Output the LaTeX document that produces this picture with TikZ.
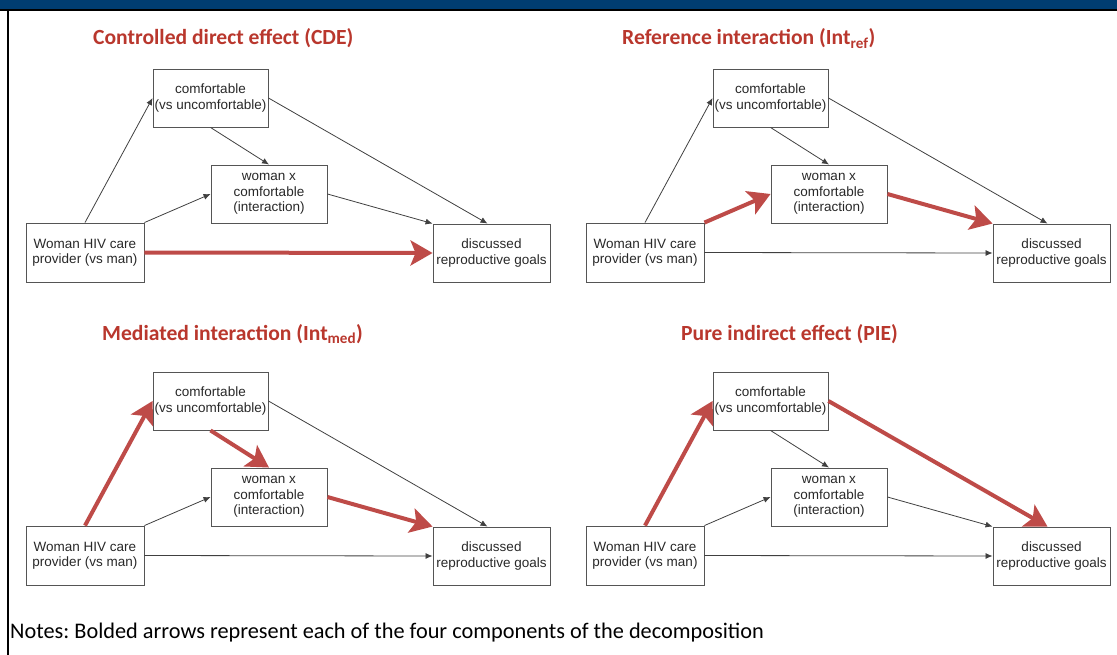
\documentclass[tikz,border=0pt]{standalone}
\usepackage{fontspec}
\setmainfont{Liberation Sans}
\newfontfamily\titlefont{Carlito}
\usetikzlibrary{arrows.meta}
\definecolor{bandblue}{RGB}{0,61,113}
\definecolor{titlered}{RGB}{185,55,45}
\definecolor{arrowred}{RGB}{190,75,72}
\definecolor{boxgray}{RGB}{85,85,85}
\definecolor{txtgray}{RGB}{40,40,40}
\newcommand\drawpanel[8]{%
  \begin{scope}[shift={#2}]
    \node[box, minimum width=115pt] (#1c) at (210.5,98) {comfortable\\(vs uncomfortable)};
    \node[box] (#1x) at (269,194) {woman x\\comfortable\\(interaction)};
    \node[box, minimum width=118pt, minimum height=59pt] (#1w) at (85,252.5) {Woman HIV care\\provider (vs man)};
    \node[box, minimum width=117pt] (#1d) at (491.5,253) {discussed\\reproductive goals};
    \coordinate (#1dn) at ([xshift=-4pt]#1d.north);
    \draw[#3] (#1w.north) -- (#1c.west);
    \draw[#4] (#1c.south) -- (#1x.north);
    \draw[#5] (#1w.north east) -- (#1x.west);
    \draw[#6] (#1x.east) -- (#1d.north west);
    \draw[#7] (#1c.east) -- (#1dn);
    \draw[#8] (#1w.east) -- (#1d.west);
  \end{scope}}
\begin{document}
\frenchspacing
\begin{tikzpicture}[x=1pt,y=-1pt,
  box/.style={draw=boxgray, line width=0.9pt, rectangle, minimum width=116pt,
    minimum height=58pt, inner sep=0pt, align=center, text=txtgray,
    font=\fontsize{13.5}{15.3}\selectfont},
  thin/.style={draw=black!75, line width=0.8pt, -{Latex[length=7pt,width=6pt]}},
  bold/.style={draw=arrowred, line width=4pt, -{Stealth[length=22pt,width=25pt,inset=5pt]}},
  ttl/.style={anchor=base west, text=titlered, inner sep=0pt,
    font=\titlefont\bfseries\fontsize{21.6}{26}\selectfont},
  notes/.style={anchor=base west, inner sep=0pt, text=black,
    font=\titlefont\fontsize{22.3}{26}\selectfont},
]
\useasboundingbox (0,0) rectangle (1117,655);
\fill[bandblue] (0,0) rectangle (1117,9.3);
\fill[black] (0,9.3) rectangle (1117,11);
\draw[black, line width=1.6pt] (8.2,10) -- (8.2,655);

\node[ttl] (t1) at (93,45) {Controlled direct effect (CDE)};
\node[ttl] (t2) at (622,45) {Reference interaction (Int\textsubscript{ref})};
\node[ttl] (t3) at (102,340) {Mediated interaction (Int\textsubscript{med})};
\node[ttl] (t4) at (681,340) {Pure indirect effect (PIE)};

\drawpanel{a}{(0,0)}{thin}{thin}{thin}{thin}{thin}{bold}
\drawpanel{b}{(560,0)}{thin}{thin}{bold}{bold}{thin}{thin}
\drawpanel{c}{(0,303)}{bold}{bold}{thin}{bold}{thin}{thin}
\drawpanel{d}{(560,303)}{bold}{thin}{thin}{thin}{bold}{thin}

\node[notes] (n) at (10,638) {Notes: Bolded arrows represent each of the four components of the decomposition};
\end{tikzpicture}
\end{document}
